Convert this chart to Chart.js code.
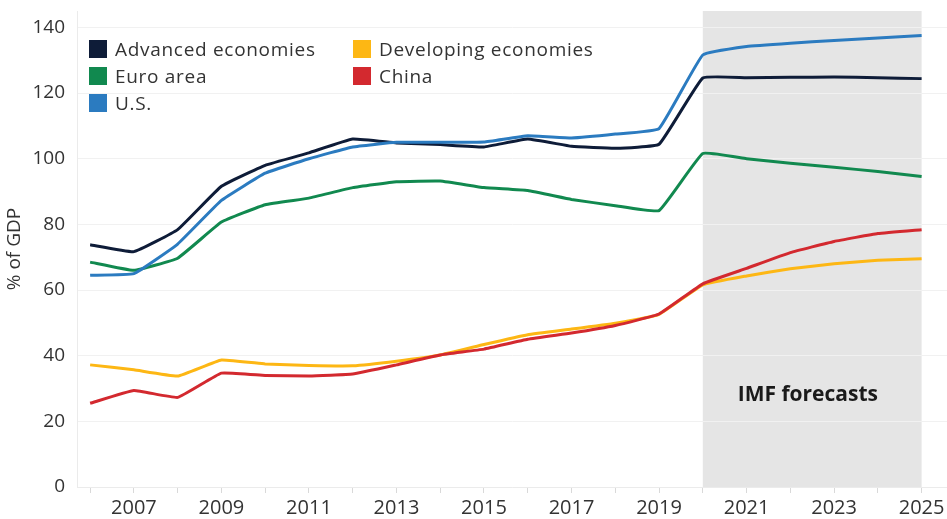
<!DOCTYPE html>
<html>
<head>
<meta charset="utf-8">
<script src="https://cdn.jsdelivr.net/npm/chart.js@4.4.0/dist/chart.umd.min.js"></script>
<style>
    html, body { margin: 0; padding: 0; background: #fff; }
    #wrap { position: relative; width: 947px; height: 519px; }
    #legend { position: absolute; left: 0; top: 0; font-family: 'Open Sans', sans-serif; font-size: 19px; letter-spacing: 0.7px; color: #333; }
    .item { position: absolute; display: flex; align-items: center; white-space: nowrap; height: 20px; }
    .swatch { width: 18px; height: 18px; margin-right: 8px; }
</style>
</head>
<body>
<div id="wrap">
    <canvas id="debtChart" width="947" height="519"></canvas>
    <div id="legend"></div>
</div>
<script>
// ===================================
// Government debt, % of GDP
// ===================================

const years = [2006, 2007, 2008, 2009, 2010, 2011, 2012, 2013, 2014, 2015,
               2016, 2017, 2018, 2019, 2020, 2021, 2022, 2023, 2024, 2025];

const advanced   = [73.8, 71.7, 78.4, 91.6, 98.0, 101.8, 106.0, 104.8, 104.3, 103.6,
                    106.0, 103.8, 103.2, 104.4, 124.6, 124.7, 124.8, 124.9, 124.7, 124.4];
const euroArea   = [68.5, 66.0, 69.7, 80.7, 86.0, 88.0, 91.2, 93.0, 93.2, 91.2,
                    90.3, 87.6, 85.7, 84.2, 101.6, 100.0, 98.6, 97.4, 96.1, 94.6];
const us         = [64.5, 65.0, 74.0, 87.3, 95.6, 100.0, 103.6, 105.0, 105.0, 105.1,
                    107.0, 106.3, 107.5, 109.2, 131.6, 134.2, 135.2, 136.0, 136.8, 137.5];
const developing = [37.2, 35.7, 33.8, 38.7, 37.5, 37.0, 36.9, 38.3, 40.2, 43.4,
                    46.4, 48.1, 49.9, 52.6, 61.6, 64.3, 66.5, 68.0, 69.1, 69.5];
const china      = [25.5, 29.4, 27.3, 34.7, 34.0, 33.8, 34.4, 37.2, 40.2, 42.0,
                    45.0, 46.9, 49.2, 52.7, 61.9, 66.6, 71.4, 74.8, 77.2, 78.4];

const yTicks = [0, 20, 40, 60, 80, 100, 120, 140];
const forecastStart = 2020;
const forecastEnd = 2025;
const forecastLabel = 'IMF forecasts';

const seriesNames  = ['Advanced economies', 'Euro area', 'U.S.', 'Developing economies', 'China'];
const seriesValues = [advanced, euroArea, us, developing, china];
const seriesColors = ['#0e1c38', '#11894f', '#2b7bc0', '#fdb714', '#d3292f'];

// legend in two columns, drawn as html over the canvas
const legendCols = [89, 353];
const legendRows = [49, 76, 103];

function buildLegend() {
    const box = document.getElementById('legend');
    seriesNames.forEach((name, i) => {
        const col = i < 3 ? 0 : 1;
        const row = i < 3 ? i : i - 3;
        const item = document.createElement('div');
        item.className = 'item';
        item.style.left = legendCols[col] + 'px';
        item.style.top = (legendRows[row] - 10) + 'px';
        item.innerHTML = '<span class="swatch" style="background:' + seriesColors[i] + '"></span>' + name;
        box.appendChild(item);
    });
}

// grey band behind the forecast years
const forecastShade = {
    id: 'forecastShade',
    beforeDraw(chart) {
        const { ctx, chartArea, scales } = chart;
        const x1 = scales.x.getPixelForValue(forecastStart);
        const x2 = scales.x.getPixelForValue(forecastEnd);
        ctx.save();
        ctx.fillStyle = '#e5e5e5';
        ctx.fillRect(x1, chartArea.top, x2 - x1, chartArea.bottom - chartArea.top);
        ctx.restore();
    },
    afterDraw(chart) {
        const { ctx, scales } = chart;
        ctx.save();
        ctx.fillStyle = '#1a1a1a';
        ctx.font = 'bold 21px "Open Sans", sans-serif';
        ctx.textAlign = 'center';
        ctx.textBaseline = 'middle';
        ctx.fillText(forecastLabel, scales.x.getPixelForValue(2022.4), scales.y.getPixelForValue(28));
        ctx.restore();
    }
};

Chart.defaults.font.family = "'Open Sans', sans-serif";
Chart.defaults.color = '#333';

const chart = new Chart(document.getElementById('debtChart'), {
    type: 'line',
    data: {
        datasets: seriesNames.map((name, i) => ({
            label: name,
            data: years.map((yr, j) => ({ x: yr, y: seriesValues[i][j] })),
            borderColor: seriesColors[i],
            backgroundColor: seriesColors[i],
            borderWidth: 3,
            pointRadius: 0,
            tension: 0.1,
            fill: false
        })).reverse()
    },
    options: {
        responsive: false,
        animation: false,
        devicePixelRatio: 1,
        layout: { padding: { top: 11, right: 0, bottom: 0, left: 0 } },
        plugins: {
            legend: { display: false },
            tooltip: { enabled: false }
        },
        scales: {
            x: {
                type: 'linear',
                min: 2005.7,
                max: 2025.58,
                afterBuildTicks: (scale) => { scale.ticks = years.map(v => ({ value: v })); },
                afterFit: (scale) => { scale.height = 32; scale.paddingLeft = 0; scale.paddingRight = 0; },
                ticks: {
                    autoSkip: false,
                    maxRotation: 0,
                    padding: 3,
                    color: '#333',
                    font: { size: 20 },
                    callback: (v) => (v % 2 === 1 ? String(v) : '')
                },
                grid: {
                    drawOnChartArea: false,
                    drawTicks: true,
                    tickLength: 6,
                    color: '#d9d9d9'
                },
                border: { display: true, color: '#ebebeb' }
            },
            y: {
                min: 0,
                max: 145,
                afterBuildTicks: (scale) => { scale.ticks = yTicks.map(v => ({ value: v })); },
                afterFit: (scale) => { scale.width = 77; scale.paddingTop = 0; scale.paddingBottom = 0; },
                ticks: {
                    padding: 12,
                    color: '#333',
                    font: { size: 19 }
                },
                grid: {
                    color: '#f1f1f1',
                    drawTicks: false
                },
                border: { display: true, color: '#ebebeb' },
                title: {
                    display: true,
                    text: '% of GDP',
                    color: '#333',
                    font: { size: 19 },
                    padding: { top: 3, bottom: 0 }
                }
            }
        }
    },
    plugins: [forecastShade]
});

buildLegend();
</script>
</body>
</html>
